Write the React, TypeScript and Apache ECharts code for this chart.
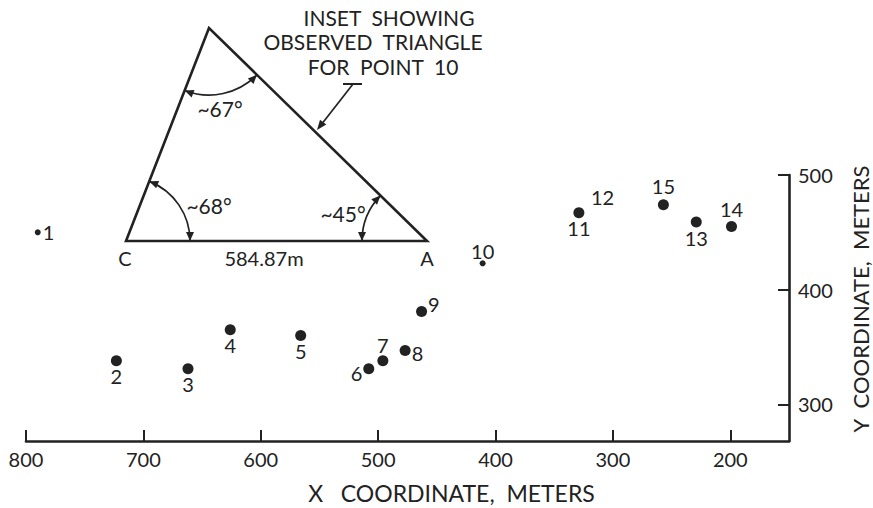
import React, { useEffect, useRef } from "react";
import * as echarts from "echarts";

// ---- data ----
const pointNames = ["1", "2", "3", "4", "5", "6", "7", "8", "9", "10", "11", "12", "13", "14", "15"];
const xValues = [790, 723, 662, 626, 566, 508, 496, 477, 463, 411, 329, 329, 229, 199, 257];
const yValues = [450, 338, 331, 365, 360, 331, 338, 347, 381, 423, 467, 467, 459, 455, 474];
const xTickValues = [800, 700, 600, 500, 400, 300, 200];
const yTickValues = [300, 400, 500];
const insetLines = ["INSET  SHOWING", "OBSERVED  TRIANGLE", "FOR  POINT  10"];
const angleLabels = ["~67°", "~68°", "~45°"];
const baseLabel = "584.87m";
const vertexLabels = ["C", "A"];
const xTitle = "X   COORDINATE,  METERS";
const yTitle = "Y  COORDINATE,  METERS";

// ---- styling ----
const INK = "#222222";
const FONT = "Lato, 'DejaVu Sans', sans-serif";
const smallPoints = new Set(["1", "10"]);
const hiddenPoints = new Set(["12"]);
const labelPlacement: Record<string, any> = {
  "1": { position: "right", distance: 2, offset: [0, 0] },
  "2": { position: "bottom", distance: 0 },
  "3": { position: "bottom", distance: 0 },
  "4": { position: "bottom", distance: 0 },
  "5": { position: "bottom", distance: 0 },
  "6": { position: "left", distance: 1, offset: [0, 4] },
  "7": { position: "top", distance: 0 },
  "8": { position: "right", distance: 1, offset: [0, 3] },
  "9": { position: "right", distance: 1, offset: [0, -7] },
  "10": { position: "top", distance: -1 },
  "11": { position: "bottom", distance: 0 },
  "12": { position: "right", distance: 12, offset: [0, -16] },
  "13": { position: "bottom", distance: 0 },
  "14": { position: "top", distance: 2 },
  "15": { position: "top", distance: 3 },
};

function arrowHead(cx: number, cy: number, r: number, deg: number, forward: boolean, len = 9, half = 4) {
  const t = (deg * Math.PI) / 180;
  const px = cx + r * Math.cos(t);
  const py = cy + r * Math.sin(t);
  let dx = -Math.sin(t);
  let dy = Math.cos(t);
  if (!forward) {
    dx = -dx;
    dy = -dy;
  }
  const bx = px - dx * len;
  const by = py - dy * len;
  const nx = -dy;
  const ny = dx;
  return {
    type: "polygon",
    shape: { points: [[px, py], [bx + nx * half, by + ny * half], [bx - nx * half, by - ny * half]] },
    style: { fill: INK },
    z: 10,
  };
}

function angleArc(cx: number, cy: number, r: number, a0: number, a1: number) {
  return [
    {
      type: "arc",
      shape: { cx, cy, r, startAngle: (a0 * Math.PI) / 180, endAngle: (a1 * Math.PI) / 180, clockwise: true },
      style: { stroke: INK, lineWidth: 1.7, fill: "none" },
      z: 10,
    },
    arrowHead(cx, cy, r, a0, false),
    arrowHead(cx, cy, r, a1, true),
  ];
}

export default function App() {
  const ref = useRef<HTMLDivElement>(null);
  useEffect(() => {
    if (!ref.current) return;
    const chart = echarts.init(ref.current, null, { renderer: "svg" });

    const data = pointNames.map((n, i) => ({
      name: n,
      value: [xValues[i], yValues[i]],
      symbolSize: hiddenPoints.has(n) ? 0 : smallPoints.has(n) ? 6 : 11,
      label: { show: true, ...labelPlacement[n] },
    }));

    // inset triangle geometry (illustration, pixel space)
    const T = [209, 28];
    const C = [126, 241];
    const A = [427, 241];

    const graphic: any[] = [
      {
        type: "polygon",
        shape: { points: [T, C, A] },
        style: { stroke: INK, lineWidth: 2.6, fill: "none", lineJoin: "miter" },
        z: 10,
      },
      ...angleArc(T[0], T[1], 67, 44.3, 111.3),
      ...angleArc(C[0], C[1], 64, -68.7, 0),
      ...angleArc(A[0], A[1], 65, 180, 224.3),
      // pointer from inset caption to the triangle
      { type: "line", shape: { x1: 343, y1: 84, x2: 362, y2: 84 }, style: { stroke: INK, lineWidth: 2 }, z: 10 },
      { type: "line", shape: { x1: 353, y1: 84, x2: 321, y2: 125 }, style: { stroke: INK, lineWidth: 1.7 }, z: 10 },
      (() => {
        const tip = [317, 130];
        const dx = 317 - 353;
        const dy = 130 - 84;
        const L = Math.hypot(dx, dy);
        const ux = dx / L;
        const uy = dy / L;
        const bx = tip[0] - ux * 10;
        const by = tip[1] - uy * 10;
        return {
          type: "polygon",
          shape: { points: [tip, [bx - uy * 4, by + ux * 4], [bx + uy * 4, by - ux * 4]] },
          style: { fill: INK },
          z: 10,
        };
      })(),
      // caption
      ...insetLines.map((t, i) => ({
        type: "text",
        x: [389, 373, 383][i],
        y: [17, 41, 66][i],
        style: { text: t, fill: INK, font: `21px ${FONT}`, align: "center", verticalAlign: "middle" },
        z: 10,
      })),
      // angle labels
      ...angleLabels.map((t, i) => ({
        type: "text",
        x: [220, 209, 343][i],
        y: [108, 205, 213][i],
        style: { text: t, fill: INK, font: `21px ${FONT}`, align: "center", verticalAlign: "middle" },
        z: 10,
      })),
      {
        type: "text",
        x: 264,
        y: 258,
        style: { text: baseLabel, fill: INK, font: `20px ${FONT}`, align: "center", verticalAlign: "middle" },
        z: 10,
      },
      ...vertexLabels.map((t, i) => ({
        type: "text",
        x: [125, 427][i],
        y: 258,
        style: { text: t, fill: INK, font: `20px ${FONT}`, align: "center", verticalAlign: "middle" },
        z: 10,
      })),
    ];

    chart.setOption({
      animation: false,
      backgroundColor: "#ffffff",
      grid: { left: 26, right: 84, top: 175, bottom: 67, containLabel: false, outerBoundsMode: "none" },
      xAxis: {
        type: "value",
        min: 150,
        max: 800,
        inverse: true,
        name: xTitle,
        nameLocation: "middle",
        nameGap: 40,
        nameTextStyle: { color: INK, fontFamily: FONT, fontSize: 23, padding: [0, 0, 0, 88] },
        axisLine: { show: true, onZero: false, lineStyle: { color: INK, width: 2.6 } },
        axisTick: { show: true, inside: true, length: 11, customValues: xTickValues, lineStyle: { color: INK, width: 2 } },
        axisLabel: { show: true, customValues: xTickValues, color: INK, fontFamily: FONT, fontSize: 20, margin: 8 },
        splitLine: { show: false },
      },
      yAxis: {
        type: "value",
        position: "right",
        min: 268,
        max: 500,
        name: yTitle,
        nameLocation: "middle",
        nameRotate: 90,
        nameGap: 60,
        nameTextStyle: { color: INK, fontFamily: FONT, fontSize: 22, lineHeight: 22, padding: [0, 0, 0, 18] },
        axisLine: { show: true, onZero: false, lineStyle: { color: INK, width: 2.6 } },
        axisTick: { show: true, inside: true, length: 11, customValues: yTickValues, lineStyle: { color: INK, width: 2 } },
        axisLabel: { show: true, customValues: yTickValues, color: INK, fontFamily: FONT, fontSize: 20, margin: 9 },
        splitLine: { show: false },
      },
      series: [
        {
          type: "scatter",
          data,
          symbol: "circle",
          itemStyle: { color: INK, opacity: 1 },
          label: { show: true, formatter: "{b}", color: INK, fontFamily: FONT, fontSize: 20 },
          clip: false,
        },
      ],
      graphic,
    });
    return () => chart.dispose();
  }, []);
  return <div ref={ref} style={{ position: "fixed", left: 0, top: 0, width: 873, height: 508 }} />;
}
